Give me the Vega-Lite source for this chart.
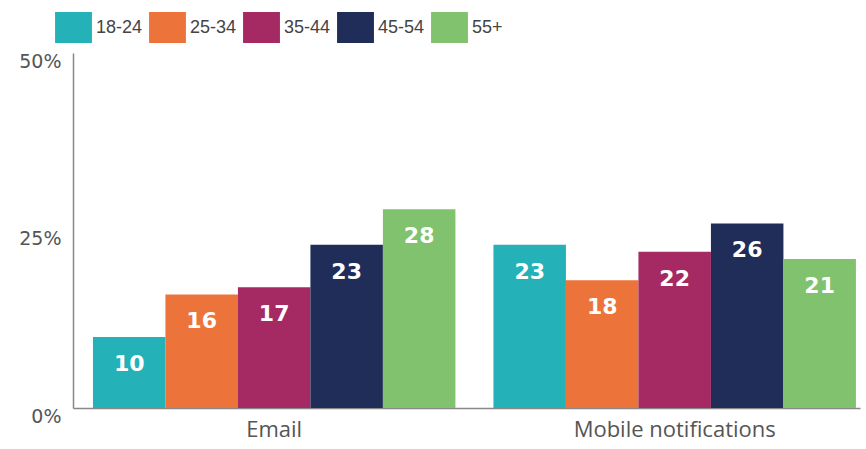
{
  "$schema": "https://vega.github.io/schema/vega-lite/v6.json",
  "autosize": "none",
  "width": 787,
  "height": 355,
  "padding": {"left": 73, "top": 53, "right": 6, "bottom": 41},
  "background": "white",
  "config": {"view": {"stroke": null}},
  "data": {"values": [
    {"channel": "Email", "age": "18-24", "value": 10},
    {"channel": "Email", "age": "25-34", "value": 16},
    {"channel": "Email", "age": "35-44", "value": 17},
    {"channel": "Email", "age": "45-54", "value": 23},
    {"channel": "Email", "age": "55+", "value": 28},
    {"channel": "Mobile notifications", "age": "18-24", "value": 23},
    {"channel": "Mobile notifications", "age": "25-34", "value": 18},
    {"channel": "Mobile notifications", "age": "35-44", "value": 22},
    {"channel": "Mobile notifications", "age": "45-54", "value": 26},
    {"channel": "Mobile notifications", "age": "55+", "value": 21}
  ]},
  "encoding": {
    "x": {"field": "channel", "type": "nominal",
      "scale": {"paddingInner": 0.095, "paddingOuter": 0.03, "align": 0.83},
      "axis": {"title": null, "labelAngle": 0, "ticks": false, "labelPadding": 11, "labelLimit": 0,
        "labelFont": "Open Sans", "labelFontSize": 22, "labelColor": "#555",
        "domainColor": "#888", "domainWidth": 1.5}},
    "xOffset": {"field": "age", "type": "nominal", "sort": ["18-24","25-34","35-44","45-54","55+"], "scale": {"paddingInner": 0, "paddingOuter": 0}},
    "y": {"field": "value", "type": "quantitative",
      "scale": {"domain": [0, 50]},
      "axis": {"title": null, "values": [0, 25, 50], "grid": false, "ticks": false,
        "labelExpr": "datum.value + '%'", "labelOffset": 8, "labelPadding": 12,
        "labelFont": "DejaVu Sans", "labelFontSize": 19, "labelColor": "#555",
        "domainColor": "#888", "domainWidth": 1.5}}
  },
  "layer": [
    {"mark": {"type": "bar"},
      "encoding": {
        "color": {"field": "age", "type": "nominal",
          "sort": ["18-24","25-34","35-44","45-54","55+"],
          "scale": {"domain": ["18-24","25-34","35-44","45-54","55+"],
            "range": ["#24B1B8", "#EC743A", "#A52A63", "#1F2D58", "#80C26D"]},
          "legend": {"title": null, "orient": "none", "direction": "horizontal",
            "legendX": -15, "legendY": -41, "padding": 0,
            "symbolType": "M-1.19,-1H1.19V1H-1.19Z", "symbolSize": 961,
            "symbolStrokeWidth": 0, "symbolOpacity": 1,
            "labelOffset": 7, "columnPadding": 6,
            "labelFont": "Liberation Sans Narrow, Liberation Sans, sans-serif",
            "labelFontSize": 18, "labelColor": "#444"}}
      }},
    {"mark": {"type": "text", "baseline": "middle", "dy": 27, "color": "white",
        "font": "DejaVu Sans", "fontWeight": "bold", "fontSize": 22},
      "encoding": {"text": {"field": "value", "type": "quantitative"}}}
  ]
}
